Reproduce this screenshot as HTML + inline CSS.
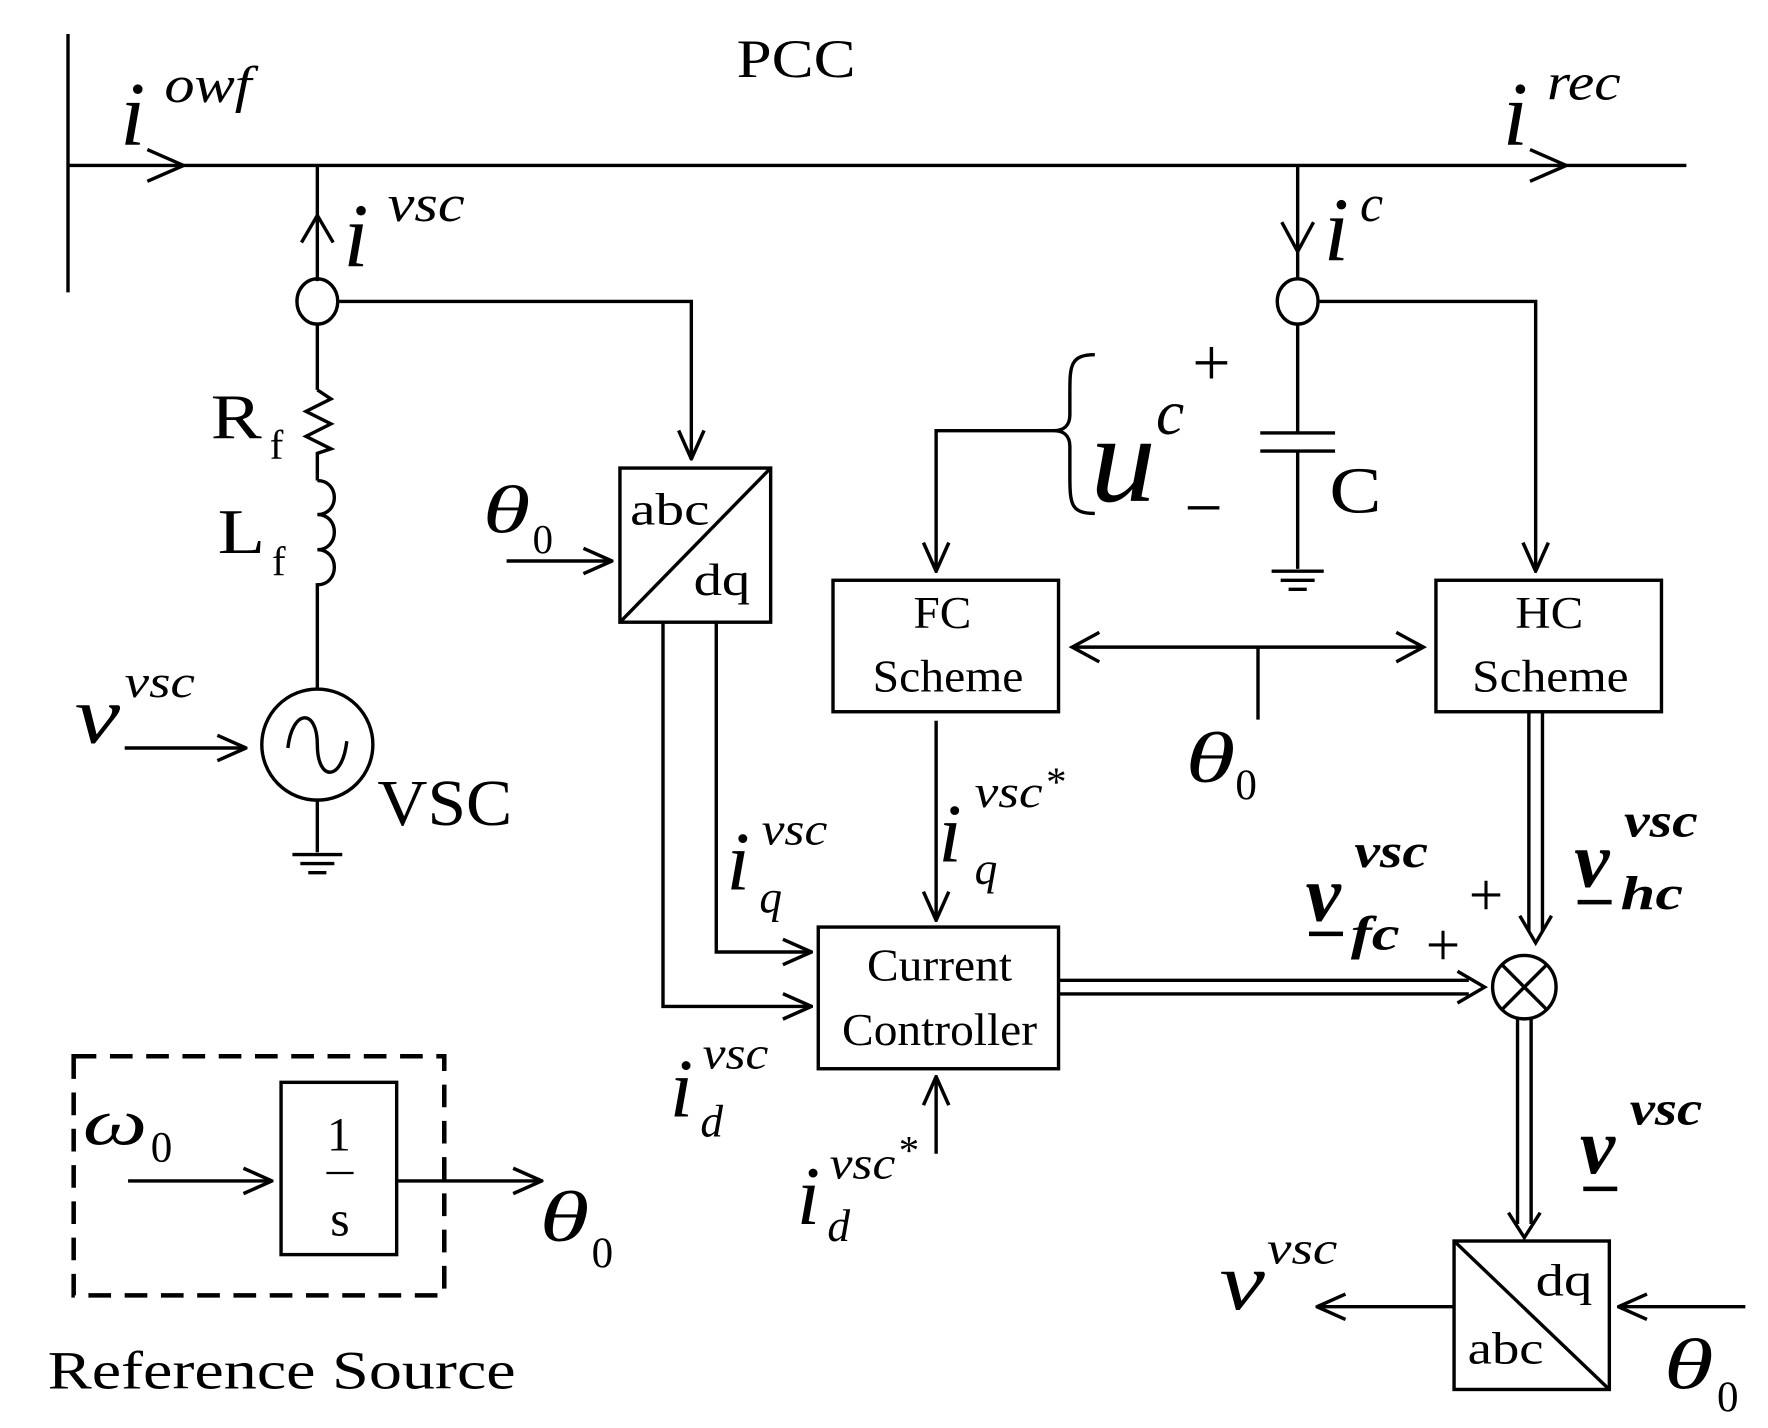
<!DOCTYPE html>
<html><head><meta charset="utf-8"><style>html,body{margin:0;padding:0;background:#fff}svg{display:block}</style></head>
<body>
<svg width="1768" height="1428" viewBox="0 0 1560 1260" xmlns="http://www.w3.org/2000/svg" font-family="Liberation Serif, serif">
<defs>
<marker id="a" viewBox="0 0 20 20" refX="19" refY="10" markerWidth="28" markerHeight="28" markerUnits="userSpaceOnUse" orient="auto"><path d="M1,2 L19,10 L1,18" fill="none" stroke="#000" stroke-width="2.2"/></marker>
</defs>
<g stroke="#000" stroke-width="3" fill="none">
<line x1="60" y1="30" x2="60" y2="258"/>
<line x1="60" y1="146" x2="1488" y2="146"/>
<path d="M130,132 L162,146 L130,160"/>
<path d="M1350,132 L1382,146 L1350,160"/>
<line x1="280" y1="146" x2="280" y2="248"/>
<path d="M266,214 L280,190 L294,214"/>
<ellipse cx="280" cy="266" rx="18" ry="20"/>
<line x1="280" y1="286" x2="280" y2="344"/>
<path d="M280,344 L292,352 L270,363 L292,374 L270,385 L292,396 L280,400 L280,424"/>
<path d="M280,424 C300,424 300,454 280,454 C300,454 300,485 280,485 C300,485 300,516 280,516 L280,608"/>
<circle cx="280" cy="657" r="49"/>
<path d="M254,660 C258,625 280,625 280,657 C280,690 302,690 306,654"/>
<line x1="280" y1="706" x2="280" y2="752"/>
<line x1="258" y1="754" x2="302" y2="754"/><line x1="265" y1="762" x2="295" y2="762"/><line x1="272" y1="770" x2="288" y2="770"/>
<line x1="110" y1="660" x2="217" y2="660" marker-end="url(#a)"/>
<polyline points="298,266 610,266 610,405" marker-end="url(#a)"/>
<rect x="547" y="413" width="133" height="136"/>
<line x1="547" y1="549" x2="680" y2="413"/>
<line x1="447" y1="495" x2="540" y2="495" marker-end="url(#a)"/>
<polyline points="632,549 632,840 716,840" marker-end="url(#a)"/>
<polyline points="585,549 585,888 716,888" marker-end="url(#a)"/>
<rect x="722" y="818" width="212" height="125"/>
<line x1="826" y1="1018" x2="826" y2="950" marker-end="url(#a)"/>
<rect x="735" y="512" width="199" height="116"/>
<rect x="1267" y="512" width="199" height="116"/>
<line x1="946" y1="571" x2="1256" y2="571"/>
<path d="M970,558 L946,571 L970,584"/><path d="M1232,558 L1256,571 L1232,584"/>
<line x1="1110" y1="571" x2="1110" y2="635"/>
<line x1="826" y1="636" x2="826" y2="812" marker-end="url(#a)"/>
<line x1="1145" y1="146" x2="1145" y2="246"/>
<path d="M1131,196 L1145,222 L1159,196"/>
<ellipse cx="1145" cy="266" rx="18" ry="20"/>
<line x1="1145" y1="286" x2="1145" y2="382"/>
<line x1="1112" y1="382" x2="1178" y2="382"/><line x1="1112" y1="398" x2="1178" y2="398"/>
<line x1="1145" y1="398" x2="1145" y2="502"/>
<line x1="1122" y1="504" x2="1168" y2="504"/><line x1="1130" y1="512" x2="1160" y2="512"/><line x1="1137" y1="520" x2="1153" y2="520"/>
<polyline points="1163,266 1355,266 1355,504" marker-end="url(#a)"/>
<path d="M966,313 C945,313 944,322 944,345 L944,366 C944,376 938,380 930,380 C938,380 944,384 944,394 L944,420 C944,445 945,453 966,453"/>
<polyline points="930,380 826,380 826,504" marker-end="url(#a)"/>
<line x1="1349" y1="628" x2="1349" y2="822"/><line x1="1361" y1="628" x2="1361" y2="822"/>
<path d="M1341,808 L1355,832 L1369,808"/>
<line x1="934" y1="865" x2="1296" y2="865"/><line x1="934" y1="877" x2="1296" y2="877"/>
<path d="M1286,857 L1310,871 L1286,885"/>
<circle cx="1345" cy="871" r="28"/>
<line x1="1325" y1="851" x2="1365" y2="891"/><line x1="1365" y1="851" x2="1325" y2="891"/>
<line x1="1339" y1="899" x2="1339" y2="1080"/><line x1="1351" y1="899" x2="1351" y2="1080"/>
<path d="M1331,1070 L1345,1092 L1359,1070"/>
<rect x="1283" y="1095" width="137" height="131"/>
<line x1="1283" y1="1095" x2="1420" y2="1226"/>
<line x1="1540" y1="1153" x2="1428" y2="1153" marker-end="url(#a)"/>
<line x1="1283" y1="1153" x2="1162" y2="1153" marker-end="url(#a)"/>
<rect x="65" y="932" width="327" height="211" stroke-dasharray="20,12" stroke-width="4"/>
<rect x="248" y="955" width="102" height="152"/>
<line x1="113" y1="1042" x2="240" y2="1042" marker-end="url(#a)"/>
<line x1="350" y1="1042" x2="478" y2="1042" marker-end="url(#a)"/>
<line x1="288" y1="1035" x2="312" y2="1035" stroke-width="2"/>
</g>
<g fill="#000" lengthAdjust="spacingAndGlyphs">
<text x="650" y="68" font-size="48" textLength="105" lengthAdjust="spacingAndGlyphs">PCC</text>
<text x="106" y="128" font-size="80" font-style="italic">i</text><text x="145" y="90" font-size="46" font-style="italic" textLength="77" lengthAdjust="spacingAndGlyphs">owf</text>
<text x="1326" y="128" font-size="80" font-style="italic">i</text><text x="1365" y="88" font-size="46" font-style="italic" textLength="65" lengthAdjust="spacingAndGlyphs">rec</text>
<text x="303" y="235" font-size="80" font-style="italic">i</text><text x="342" y="195" font-size="46" font-style="italic" textLength="68" lengthAdjust="spacingAndGlyphs">vsc</text>
<text x="1168" y="230" font-size="80" font-style="italic">i</text><text x="1200" y="195" font-size="46" font-style="italic">c</text>
<text x="186" y="387" font-size="56" textLength="45" lengthAdjust="spacingAndGlyphs">R</text><text x="238" y="405" font-size="36">f</text>
<text x="192" y="488" font-size="56" textLength="42" lengthAdjust="spacingAndGlyphs">L</text><text x="240" y="508" font-size="36">f</text>
<text x="66" y="655" font-size="72" font-style="italic" textLength="40" lengthAdjust="spacingAndGlyphs">v</text><text x="110" y="615" font-size="40" font-style="italic" textLength="62" lengthAdjust="spacingAndGlyphs">vsc</text>
<text x="333" y="728" font-size="58" textLength="119" lengthAdjust="spacingAndGlyphs">VSC</text>
<text x="426" y="470" font-size="60" font-style="italic" textLength="42" lengthAdjust="spacingAndGlyphs">θ</text><text x="470" y="488" font-size="36">0</text>
<text x="556" y="463" font-size="40" textLength="70" lengthAdjust="spacingAndGlyphs">abc</text><text x="612" y="525" font-size="40" textLength="50" lengthAdjust="spacingAndGlyphs">dq</text>
<text x="806" y="554" font-size="40" textLength="51" lengthAdjust="spacingAndGlyphs">FC</text><text x="770" y="610" font-size="40" textLength="133" lengthAdjust="spacingAndGlyphs">Scheme</text>
<text x="1337" y="554" font-size="40" textLength="60" lengthAdjust="spacingAndGlyphs">HC</text><text x="1299" y="610" font-size="40" textLength="138" lengthAdjust="spacingAndGlyphs">Scheme</text>
<text x="765" y="865" font-size="40" textLength="128" lengthAdjust="spacingAndGlyphs">Current</text><text x="743" y="922" font-size="40" textLength="172" lengthAdjust="spacingAndGlyphs">Controller</text>
<text x="1046" y="690" font-size="64" font-style="italic" textLength="44" lengthAdjust="spacingAndGlyphs">θ</text><text x="1090" y="705" font-size="38">0</text>
<text x="962" y="442" font-size="110" font-style="italic" textLength="58" lengthAdjust="spacingAndGlyphs">u</text><text x="1020" y="383" font-size="56" font-style="italic">c</text>
<text x="1052" y="340" font-size="60">+</text><text x="1045" y="468" font-size="60">−</text>
<text x="1173" y="452" font-size="58" textLength="46" lengthAdjust="spacingAndGlyphs">C</text>
<text x="828" y="760" font-size="74" font-style="italic">i</text><text x="860" y="712" font-size="40" font-style="italic" textLength="60" lengthAdjust="spacingAndGlyphs">vsc</text><text x="923" y="702" font-size="36">*</text><text x="860" y="780" font-size="40" font-style="italic">q</text>
<text x="641" y="785" font-size="74" font-style="italic">i</text><text x="672" y="745" font-size="40" font-style="italic" textLength="58" lengthAdjust="spacingAndGlyphs">vsc</text><text x="670" y="805" font-size="40" font-style="italic">q</text>
<text x="591" y="985" font-size="74" font-style="italic">i</text><text x="620" y="943" font-size="40" font-style="italic" textLength="58" lengthAdjust="spacingAndGlyphs">vsc</text><text x="618" y="1003" font-size="40" font-style="italic">d</text>
<text x="703" y="1080" font-size="74" font-style="italic">i</text><text x="732" y="1040" font-size="40" font-style="italic" textLength="58" lengthAdjust="spacingAndGlyphs">vsc</text><text x="793" y="1027" font-size="36">*</text><text x="730" y="1095" font-size="40" font-style="italic">d</text>
<text x="1152" y="812" font-size="70" font-style="italic" font-weight="bold">v</text><text x="1195" y="765" font-size="42" font-style="italic" font-weight="bold" textLength="65" lengthAdjust="spacingAndGlyphs">vsc</text><text x="1192" y="838" font-size="42" font-style="italic" font-weight="bold" textLength="43" lengthAdjust="spacingAndGlyphs">fc</text>
<rect x="1155" y="822" width="30" height="4"/>
<text x="1258" y="852" font-size="54">+</text><text x="1296" y="808" font-size="54">+</text>
<text x="1389" y="782" font-size="70" font-style="italic" font-weight="bold">v</text><text x="1433" y="738" font-size="42" font-style="italic" font-weight="bold" textLength="65" lengthAdjust="spacingAndGlyphs">vsc</text><text x="1430" y="802" font-size="42" font-style="italic" font-weight="bold" textLength="55" lengthAdjust="spacingAndGlyphs">hc</text>
<rect x="1392" y="794" width="30" height="4"/>
<text x="1394" y="1035" font-size="70" font-style="italic" font-weight="bold">v</text><text x="1438" y="992" font-size="42" font-style="italic" font-weight="bold" textLength="64" lengthAdjust="spacingAndGlyphs">vsc</text>
<rect x="1397" y="1047" width="30" height="4"/>
<text x="1355" y="1143" font-size="40" textLength="50" lengthAdjust="spacingAndGlyphs">dq</text>
<text x="1295" y="1203" font-size="40" textLength="67" lengthAdjust="spacingAndGlyphs">abc</text>
<text x="1076" y="1155" font-size="72" font-style="italic" textLength="40" lengthAdjust="spacingAndGlyphs">v</text><text x="1118" y="1115" font-size="40" font-style="italic" textLength="62" lengthAdjust="spacingAndGlyphs">vsc</text>
<text x="1468" y="1225" font-size="64" font-style="italic" textLength="44" lengthAdjust="spacingAndGlyphs">θ</text><text x="1515" y="1245" font-size="38">0</text>
<text x="73" y="1010" font-size="58" font-style="italic" textLength="57" lengthAdjust="spacingAndGlyphs">ω</text><text x="133" y="1025" font-size="38">0</text>
<text x="299" y="1015" font-size="42" text-anchor="middle">1</text><text x="300" y="1090" font-size="44" text-anchor="middle">s</text>
<text x="476" y="1095" font-size="64" font-style="italic" textLength="44" lengthAdjust="spacingAndGlyphs">θ</text><text x="522" y="1118" font-size="38">0</text>
<text x="42" y="1225" font-size="48" textLength="413" lengthAdjust="spacingAndGlyphs">Reference  Source</text>
</g>
</svg>
</body></html>
